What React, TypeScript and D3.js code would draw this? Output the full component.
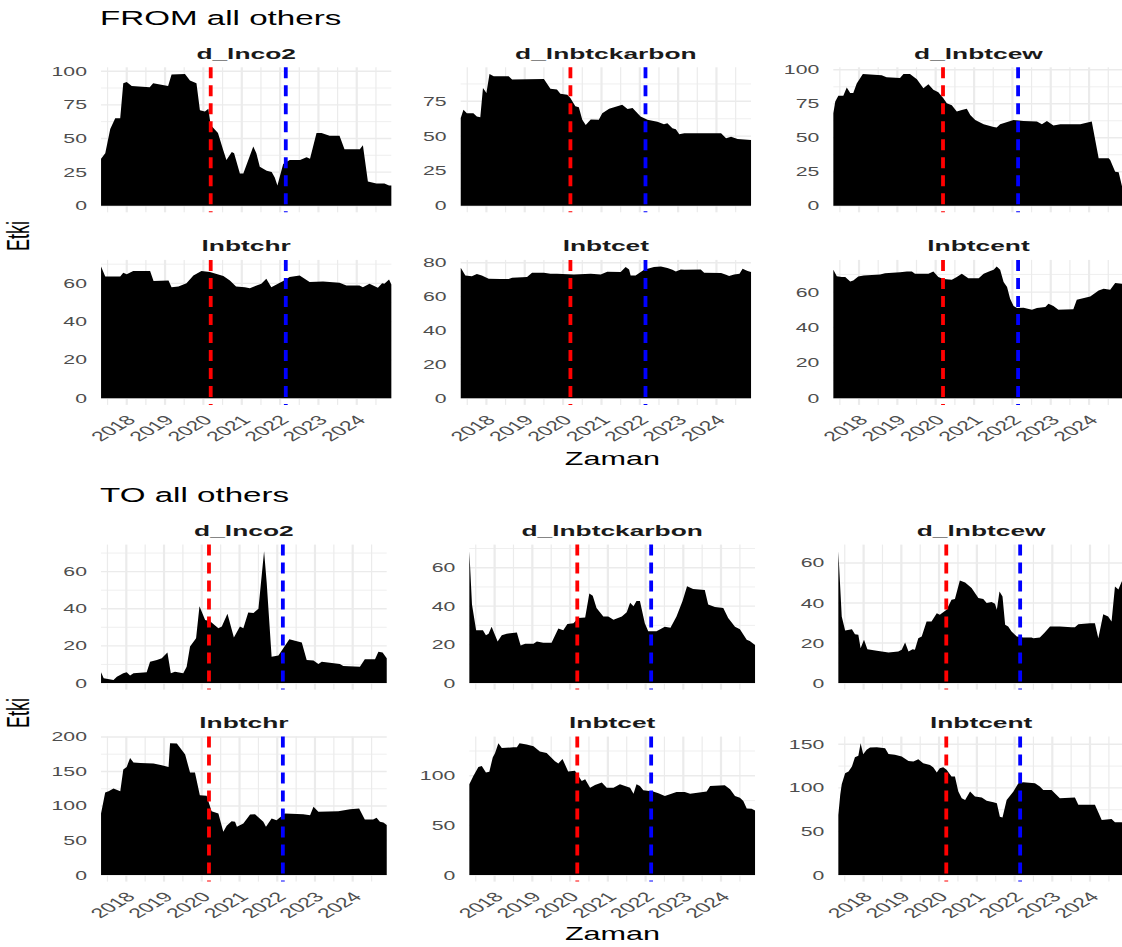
import { useEffect, useRef } from "react";
import * as d3 from "d3";

type Pt = [number, number];

// Le texte de la référence est étiré horizontalement
const SX = 1.7;

const facetNames = ["d_lnco2", "d_lnbtckarbon", "d_lnbtcew", "lnbtchr", "lnbtcet", "lnbtcent"];
const yearTicks = [2018, 2019, 2020, 2021, 2022, 2023, 2024];
const minorYearTicks = [2017.5, 2018.5, 2019.5, 2020.5, 2021.5, 2022.5, 2023.5, 2024.5];
const eventDates = ["2020-03-11", "2022-02-24"];
const eventColors = ["#ff0000", "#0000ff"];
const dateRange = ["2017-05-01", "2024-11-25"];

// FROM all others : [année décimale, valeur]
const fromLnco2: Pt[] = [[2017.33,35],[2017.44,39],[2017.57,57],[2017.70,65],[2017.83,65],[2017.91,91],[2018.0,92],[2018.13,89],[2018.6,88],[2018.69,91],[2019.08,89],[2019.17,97.5],[2019.52,98],[2019.65,93],[2019.82,91],[2019.91,71],[2020.04,70],[2020.13,72],[2020.19,60],[2020.38,54],[2020.52,41],[2020.60,34],[2020.74,40],[2020.80,39],[2020.95,24],[2021.04,24],[2021.30,44],[2021.38,39],[2021.47,29],[2021.65,26],[2021.78,25],[2021.86,21],[2021.93,15],[2022.08,31],[2022.25,34],[2022.52,34],[2022.69,36],[2022.78,35],[2022.95,54],[2023.08,54],[2023.29,52],[2023.55,52],[2023.68,42],[2024.08,42],[2024.16,45],[2024.29,18],[2024.51,16.5],[2024.72,16.5],[2024.84,15],[2024.9,15]];
const fromLnbtckarbon: Pt[] = [[2017.33,63],[2017.40,69],[2017.49,66.5],[2017.66,66.5],[2017.75,64],[2017.84,63.5],[2017.91,84.6],[2018.0,81],[2018.08,94.7],[2018.19,93],[2018.58,93],[2018.67,90.6],[2019.50,91],[2019.67,84],[2019.84,83.4],[2019.93,80.5],[2020.11,79.8],[2020.19,77.4],[2020.32,71.4],[2020.41,70.7],[2020.50,61.8],[2020.59,58],[2020.72,62],[2020.93,61.8],[2021.02,66.5],[2021.20,69.7],[2021.54,72.6],[2021.68,69.5],[2021.81,70.2],[2022.02,64],[2022.20,61.8],[2022.46,60.4],[2022.63,58.5],[2022.72,59.2],[2022.85,55.6],[2022.94,55],[2023.03,51.3],[2023.16,52],[2024.12,52],[2024.25,48.4],[2024.38,49.6],[2024.55,48],[2024.90,47.2]];
const fromLnbtcew: Pt[] = [[2017.33,68],[2017.38,76.7],[2017.46,81],[2017.59,81],[2017.68,87],[2017.77,83],[2017.85,83],[2017.94,90],[2018.10,97],[2018.59,96],[2018.72,94.6],[2019.07,94],[2019.16,97],[2019.33,97],[2019.51,93],[2019.68,86.5],[2019.81,89.4],[2019.94,85.3],[2020.07,83.5],[2020.20,79],[2020.29,75.4],[2020.42,74],[2020.55,69.3],[2020.68,70.5],[2020.81,71.3],[2020.90,66.8],[2021.03,63],[2021.25,60],[2021.51,58],[2021.59,57.5],[2021.68,60],[2022.03,63],[2022.29,62.4],[2022.64,62],[2022.77,60],[2022.90,62.4],[2023.07,59],[2023.25,60],[2023.77,60],[2024.07,62],[2024.25,35],[2024.51,35],[2024.55,33.7],[2024.68,25],[2024.77,24.6],[2024.86,14],[2024.9,10]];
const fromLnbtchr: Pt[] = [[2017.33,68.8],[2017.44,63.6],[2017.83,63.6],[2017.91,65.5],[2018.0,64.7],[2018.17,66.4],[2018.61,66.4],[2018.70,61.2],[2019.09,61.5],[2019.17,58],[2019.35,58.4],[2019.56,60.1],[2019.74,64.1],[2019.95,66.4],[2020.17,65.9],[2020.52,63.8],[2020.69,61.5],[2020.85,58.4],[2021.08,58],[2021.21,57.5],[2021.51,59.8],[2021.64,62.4],[2021.77,58],[2022.08,61.2],[2022.25,63.3],[2022.51,64.1],[2022.77,60.7],[2023.12,61],[2023.55,60.3],[2023.73,58.9],[2024.07,58.9],[2024.16,58],[2024.33,59.8],[2024.55,57.7],[2024.66,60.1],[2024.72,59.8],[2024.84,62],[2024.9,59.4]];
const fromLnbtcet: Pt[] = [[2017.33,77],[2017.45,72.5],[2017.62,72],[2017.75,73.3],[2017.88,72.5],[2018.06,70.6],[2018.36,70.4],[2018.58,70.4],[2018.67,71.2],[2019.06,71.6],[2019.19,74.1],[2019.50,74.1],[2019.67,73.5],[2019.84,73.5],[2020.28,73.1],[2020.72,73.5],[2020.98,73.1],[2021.15,74.7],[2021.50,74.5],[2021.63,77.5],[2021.72,76],[2021.76,72.5],[2021.89,72.5],[2022.11,75.9],[2022.37,77.5],[2022.55,77.8],[2022.72,76.9],[2022.85,75.9],[2022.94,74.9],[2023.07,76],[2023.16,75.9],[2023.59,76],[2023.68,74.1],[2024.12,73.9],[2024.25,72.9],[2024.33,72.2],[2024.46,73.1],[2024.60,73.5],[2024.68,76.5],[2024.81,75.1],[2024.90,74.5]];
const fromLnbtcent: Pt[] = [[2017.33,72.6],[2017.42,69],[2017.55,68.5],[2017.64,68.5],[2017.77,66],[2017.85,66.6],[2017.98,68.9],[2018.12,69.4],[2018.55,70],[2018.68,70.7],[2019.07,71.3],[2019.25,71.7],[2019.38,71.7],[2019.46,70.4],[2019.81,70.4],[2019.94,71.7],[2020.07,68.5],[2020.20,67.5],[2020.42,67],[2020.55,68.5],[2020.68,70.4],[2020.85,67.9],[2021.12,67.9],[2021.25,70.4],[2021.42,71.9],[2021.51,72.6],[2021.59,74.5],[2021.68,72.6],[2021.77,65.7],[2021.86,62.9],[2021.94,56.3],[2022.03,52.2],[2022.12,51],[2022.29,51.2],[2022.51,50.1],[2022.64,51],[2022.86,51.6],[2022.94,53.5],[2023.07,52.2],[2023.20,50.1],[2023.59,50.3],[2023.68,55.7],[2024.03,57.6],[2024.25,61],[2024.38,61.9],[2024.55,61.4],[2024.68,65.1],[2024.86,64.7],[2024.9,64.5]];

// TO all others
const toLnco2: Pt[] = [[2017.33,5.8],[2017.40,2.5],[2017.66,1.6],[2017.75,3.4],[2017.92,5.2],[2018.01,5.8],[2018.10,4],[2018.19,5.2],[2018.54,5.8],[2018.63,11.5],[2018.81,12.4],[2018.94,13.3],[2019.09,16.4],[2019.18,5.2],[2019.29,6.1],[2019.51,5.2],[2019.60,8.8],[2019.69,19.6],[2019.85,24.1],[2019.94,41.3],[2020.09,34],[2020.22,33.2],[2020.44,29.5],[2020.53,30.5],[2020.68,37.3],[2020.85,24.5],[2021.01,30.5],[2021.10,29.5],[2021.23,38],[2021.37,37.7],[2021.50,40],[2021.65,71],[2021.72,53.9],[2021.85,14.2],[2022.03,14.8],[2022.16,18.7],[2022.32,23.6],[2022.47,22.7],[2022.65,21.8],[2022.78,12.4],[2022.96,12.1],[2023.09,10.3],[2023.18,11.5],[2023.66,10.3],[2023.75,9.2],[2024.19,8.8],[2024.32,12.8],[2024.59,12.8],[2024.68,16.9],[2024.79,16.4],[2024.90,13.3]];
const toLnbtckarbon: Pt[] = [[2017.33,68.6],[2017.40,40.9],[2017.51,27.5],[2017.69,27.5],[2017.77,24.8],[2017.84,25.7],[2017.92,29.3],[2018.08,21.6],[2018.19,24.8],[2018.32,25.7],[2018.59,26.3],[2018.69,19.5],[2018.81,20.4],[2019.03,20.4],[2019.12,21.6],[2019.29,20.9],[2019.51,20.9],[2019.69,28.4],[2019.82,27.5],[2019.93,30.7],[2020.09,31.1],[2020.22,33.8],[2020.40,34.1],[2020.51,46.6],[2020.60,45.4],[2020.70,39.1],[2020.88,34.6],[2021.01,34.6],[2021.15,32.9],[2021.37,34.6],[2021.50,36.8],[2021.59,41.8],[2021.68,40],[2021.76,42.7],[2021.85,42.7],[2021.98,31.1],[2022.07,27],[2022.29,27],[2022.51,29.3],[2022.66,28.8],[2022.82,34.6],[2022.98,42.7],[2023.10,50.4],[2023.26,48.9],[2023.57,48.4],[2023.66,40.9],[2023.84,39.5],[2024.06,39.1],[2024.19,33.8],[2024.37,29.3],[2024.50,28],[2024.68,22.5],[2024.76,21.8],[2024.90,19.8]];
const toLnbtcew: Pt[] = [[2017.33,65.9],[2017.42,33.3],[2017.51,26.3],[2017.69,26.9],[2017.77,24.4],[2017.86,24.1],[2017.92,17.4],[2018.01,21.6],[2018.10,16.9],[2018.35,16.1],[2018.66,15.2],[2018.92,15.7],[2019.01,16.6],[2019.10,20.2],[2019.19,15.7],[2019.30,16.9],[2019.36,16.6],[2019.45,22.4],[2019.54,23.2],[2019.67,30.8],[2019.80,30.8],[2019.94,34.9],[2020.02,34.1],[2020.20,36.6],[2020.33,41.6],[2020.42,42],[2020.55,51.3],[2020.69,50.3],[2020.86,47.5],[2021.04,42.5],[2021.17,42],[2021.26,40],[2021.39,40.5],[2021.48,39.6],[2021.53,36.6],[2021.60,45.8],[2021.68,43.3],[2021.75,29.1],[2021.83,28.3],[2021.92,25.8],[2022.06,23.2],[2022.23,22.7],[2022.45,22.7],[2022.50,22.4],[2022.67,22.7],[2022.80,25.3],[2022.94,28.3],[2023.20,28.3],[2023.51,27.9],[2023.60,27.9],[2023.69,29.4],[2024.00,29.9],[2024.13,29.9],[2024.22,22.4],[2024.35,34.4],[2024.48,33.3],[2024.57,30.8],[2024.66,48.3],[2024.75,46.7],[2024.84,50.8],[2024.90,52]];
const toLnbtchr: Pt[] = [[2017.33,89],[2017.44,119.5],[2017.53,121.4],[2017.66,125.3],[2017.84,121.4],[2017.92,153],[2018.01,156.6],[2018.10,169.6],[2018.19,163],[2018.37,162.4],[2018.72,161.4],[2018.94,159],[2019.12,156.6],[2019.16,191],[2019.34,190.5],[2019.56,174.5],[2019.69,148.4],[2019.82,148.4],[2019.95,115.7],[2020.13,114.7],[2020.26,92.5],[2020.44,89],[2020.57,62.7],[2020.66,71.3],[2020.79,78],[2020.88,77.1],[2020.93,69.9],[2021.10,74.7],[2021.28,87.7],[2021.41,88.2],[2021.63,77.1],[2021.70,69.9],[2021.85,81.9],[2021.98,79.5],[2022.20,89.2],[2022.69,88.2],[2022.87,86.7],[2022.96,98.8],[2023.09,91.6],[2023.62,92.5],[2023.93,95.4],[2024.17,96.4],[2024.32,80.5],[2024.54,80.5],[2024.63,82.9],[2024.72,77.1],[2024.81,76.1],[2024.90,72.3]];
const toLnbtcet: Pt[] = [[2017.33,91.5],[2017.44,100],[2017.57,109],[2017.66,110],[2017.77,103.4],[2017.86,104],[2017.95,118.6],[2018.01,122.7],[2018.10,132.9],[2018.19,128],[2018.50,128.8],[2018.59,128.8],[2018.66,132.9],[2018.85,131.5],[2019.03,129.8],[2019.20,124.4],[2019.38,123],[2019.60,114.6],[2019.69,112.5],[2019.80,117],[2019.95,104.4],[2020.13,105],[2020.31,94.9],[2020.40,96.6],[2020.53,88.1],[2020.66,90.8],[2020.84,93.2],[2020.97,88.1],[2021.15,88.1],[2021.32,91.5],[2021.59,88.1],[2021.68,82],[2021.76,91.5],[2021.85,89.8],[2021.94,85.4],[2022.20,84.1],[2022.34,82.4],[2022.51,79.7],[2022.82,83.7],[2023.04,83.7],[2023.18,82],[2023.62,84.1],[2023.71,89.8],[2024.10,90.5],[2024.24,86.4],[2024.37,79.7],[2024.50,78],[2024.59,74.6],[2024.68,67.1],[2024.81,66.8],[2024.90,65.1]];
const toLnbtcent: Pt[] = [[2017.33,69],[2017.38,92],[2017.42,104.2],[2017.51,116.9],[2017.60,118.8],[2017.69,124.5],[2017.77,135.2],[2017.86,136.8],[2017.92,151.3],[2017.99,138.7],[2018.08,143.7],[2018.17,146.4],[2018.35,146.7],[2018.57,145.6],[2018.66,139],[2018.83,137.9],[2019.01,136],[2019.19,131],[2019.32,130.3],[2019.45,133],[2019.58,128.4],[2019.76,126.4],[2019.85,123.4],[2019.94,117.6],[2020.02,122.6],[2020.11,123.8],[2020.20,120.7],[2020.33,113],[2020.42,113],[2020.51,95.8],[2020.60,88.1],[2020.69,86.2],[2020.82,95.8],[2020.95,90],[2021.13,88.9],[2021.26,85.1],[2021.44,83.5],[2021.53,82.4],[2021.61,67],[2021.68,65.9],[2021.79,86.2],[2021.97,95.8],[2022.10,105.4],[2022.23,106.5],[2022.54,105.4],[2022.67,101.5],[2022.76,97.7],[2022.98,97.7],[2023.20,88.1],[2023.60,88.9],[2023.69,80.5],[2024.13,80.5],[2024.31,63.2],[2024.57,64.4],[2024.66,60.5],[2024.84,60.5],[2024.90,59]];

// Graduations de l'axe y par panneau
const fromTicks = [[0, 25, 50, 75, 100], [0, 25, 50, 75], [0, 25, 50, 75, 100], [0, 20, 40, 60], [0, 20, 40, 60, 80], [0, 20, 40, 60]];
const toTicks = [[0, 20, 40, 60], [0, 20, 40, 60], [0, 20, 40, 60], [0, 50, 100, 150, 200], [0, 50, 100], [0, 50, 100, 150]];

const panelH = 145;
const sections = [
    {
        title: "FROM all others", titleY: 25,
        series: [fromLnco2, fromLnbtckarbon, fromLnbtcew, fromLnbtchr, fromLnbtcet, fromLnbtcent],
        ticks: fromTicks, lefts: [101, 460.7, 833.3], width: 290.3, tops: [67.3, 259.9], xTitleY: 465,
    },
    {
        title: "TO all others", titleY: 502,
        series: [toLnco2, toLnbtckarbon, toLnbtcew, toLnbtchr, toLnbtcet, toLnbtcent],
        ticks: toTicks, lefts: [101, 469.3, 838.3], width: 285.7, tops: [544.6, 736.6], xTitleY: 940,
    },
];

const font = "'Liberation Sans', Arial, Helvetica, sans-serif";
const parseDate = d3.utcParse("%Y-%m-%d");

const yearToDate = (t: number) => {
    const y = Math.floor(t);
    const a = Date.UTC(y, 0, 1);
    const b = Date.UTC(y + 1, 0, 1);
    return new Date(a + (t - y) * (b - a));
};

const drawChart = (node: SVGSVGElement) => {
    const svg = d3.select(node);
    svg.selectAll("*").remove();
    const domain = dateRange.map(s => parseDate(s) as Date);

    sections.forEach(sec => {
        svg.append("text")
            .attr("transform", `translate(100,${sec.titleY}) scale(${SX},1)`)
            .attr("font-family", font)
            .attr("font-size", 19.5)
            .attr("fill", "#000")
            .text(sec.title);

        sec.series.forEach((data, i) => {
            const col = i % 3;
            const row = Math.floor(i / 3);
            const left = sec.lefts[col];
            const top = sec.tops[row];
            const x = d3.scaleUtc().domain(domain).range([left, left + sec.width]);
            const maxV = d3.max(data, d => d[1]) as number;
            const y = d3.scaleLinear().domain([-0.05 * maxV, 1.05 * maxV]).range([top + panelH, top]);
            const ticks = sec.ticks[i];
            const step = ticks[1] - ticks[0];
            const minor = [...ticks.map(t => t - step / 2), ticks[ticks.length - 1] + step / 2]
                .filter(v => v > y.domain()[0] && v < y.domain()[1]);
            const g = svg.append("g");

            // Grille mineure puis majeure
            g.selectAll(".hmin").data(minor).join("line")
                .attr("x1", left).attr("x2", left + sec.width)
                .attr("y1", d => y(d)).attr("y2", d => y(d))
                .attr("stroke", "#ebebeb").attr("stroke-width", 0.8);
            g.selectAll(".vmin").data(minorYearTicks.map(yearToDate).filter(d => d > domain[0] && d < domain[1])).join("line")
                .attr("x1", d => x(d)).attr("x2", d => x(d))
                .attr("y1", top).attr("y2", top + panelH)
                .attr("stroke", "#ebebeb").attr("stroke-width", 1.2);
            g.selectAll(".hmaj").data(ticks).join("line")
                .attr("x1", left).attr("x2", left + sec.width)
                .attr("y1", d => y(d)).attr("y2", d => y(d))
                .attr("stroke", "#ebebeb").attr("stroke-width", 1.4);
            g.selectAll(".vmaj").data(yearTicks).join("line")
                .attr("x1", d => x(yearToDate(d))).attr("x2", d => x(yearToDate(d)))
                .attr("y1", top).attr("y2", top + panelH)
                .attr("stroke", "#ebebeb").attr("stroke-width", 2.2);

            // Aire
            const area = d3.area<Pt>()
                .x(d => x(yearToDate(d[0])))
                .y0(y(0))
                .y1(d => y(d[1]));
            g.append("path").datum(data).attr("d", area).attr("fill", "#000");

            // Lignes d'événements
            eventDates.forEach((s, k) => {
                const xv = x(parseDate(s) as Date);
                g.append("line")
                    .attr("x1", xv).attr("x2", xv)
                    .attr("y1", top).attr("y2", top + panelH)
                    .attr("stroke", eventColors[k])
                    .attr("stroke-width", 3.8)
                    .attr("stroke-dasharray", "11,7");
            });

            // Titre du panneau
            g.append("text")
                .attr("transform", `translate(${left + sec.width / 2},${top - 8.5}) scale(${SX},1)`)
                .attr("text-anchor", "middle")
                .attr("font-family", font)
                .attr("font-weight", "bold")
                .attr("font-size", 15.5)
                .attr("fill", "#1a1a1a")
                .text(facetNames[i]);

            // Étiquettes y
            g.selectAll(".ylab").data(ticks).join("text")
                .attr("transform", d => `translate(${left - 14},${y(d)}) scale(${SX},1)`)
                .attr("dy", "0.36em")
                .attr("text-anchor", "end")
                .attr("font-family", font)
                .attr("font-size", 12.5)
                .attr("fill", "#4d4d4d")
                .text(d => d);

            // Étiquettes x seulement sur la dernière rangée
            if (row === 1) {
                g.selectAll(".xlab").data(yearTicks).join("text")
                    .attr("transform", d => `translate(${x(yearToDate(d)) + 10},${top + panelH + 16}) scale(${SX},1) rotate(-45)`)
                    .attr("text-anchor", "end")
                    .attr("font-family", font)
                    .attr("font-size", 13.5)
                    .attr("fill", "#4d4d4d")
                    .text(d => d);
            }
        });

        const right = sec.lefts[2] + sec.width;
        svg.append("text")
            .attr("transform", `translate(${(sec.lefts[0] + right) / 2},${sec.xTitleY}) scale(${SX},1)`)
            .attr("text-anchor", "middle")
            .attr("font-family", font)
            .attr("font-size", 18)
            .attr("fill", "#000")
            .text("Zaman");
        svg.append("text")
            .attr("transform", `translate(29,${(sec.tops[0] + sec.tops[1] + panelH) / 2}) scale(${SX},1) rotate(-90)`)
            .attr("text-anchor", "middle")
            .attr("font-family", font)
            .attr("font-size", 18)
            .attr("fill", "#000")
            .text("Etki");
    });
};

export default function App() {
    const ref = useRef<SVGSVGElement>(null);

    useEffect(() => {
        if (ref.current) drawChart(ref.current);
    }, []);

    return (
        <svg
            ref={ref}
            width={1122}
            height={947}
            style={{ position: "absolute", left: 0, top: 0, background: "#fff" }}
        />
    );
}
